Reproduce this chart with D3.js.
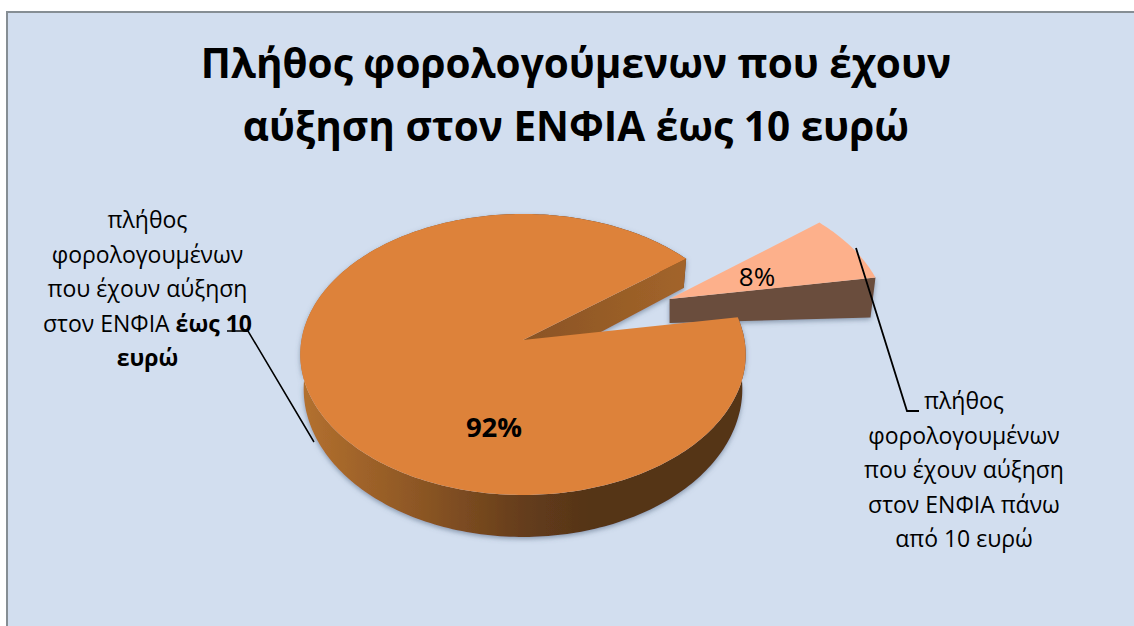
<!DOCTYPE html>
<html>
<head>
<meta charset="utf-8">
<script src="https://cdn.jsdelivr.net/npm/d3@7"></script>
<style>
  html, body { margin: 0; padding: 0; background: #fff; }
  svg { display: block; }
  text { font-family: "Open Sans", "Noto Sans", sans-serif; fill: #000; }
</style>
</head>
<body>
<div id="chart"></div>
<script>
const categories = [
  "πλήθος φορολογουμένων που έχουν αύξηση στον ΕΝΦΙΑ έως 10 ευρώ",
  "πλήθος φορολογουμένων που έχουν αύξηση στον ΕΝΦΙΑ πάνω από 10 ευρώ"
];
const values = [92, 8];
const valueLabels = ["92%", "8%"];
const titleLines = ["Πλήθος φορολογούμενων που έχουν", "αύξηση στον ΕΝΦΙΑ έως 10 ευρώ"];
const leftLabel = [["πλήθος"], ["φορολογουμένων"], ["που έχουν αύξηση"], ["στον ΕΝΦΙΑ ", "έως 10"], ["", "ευρώ"]];
const rightLabel = ["πλήθος", "φορολογουμένων", "που έχουν αύξηση", "στον ΕΝΦΙΑ πάνω", "από 10 ευρώ"];

const width = 1134;
const height = 626;
const cx = 523, cy = 340;     // pie centre on screen
const kx = 221.5, ky = 139;   // flattening of the disc
const persp = 0.103;          // near edge of the disc is drawn larger
const startDeg = 80.4;
const explode = 0.747;        // how far the small slice is pulled out

const svg = d3.select("#chart").append("svg").attr("width", width).attr("height", height);

svg.append("rect").attr("x", 7).attr("y", 12).attr("width", width).attr("height", height)
    .attr("fill", "#d2deef").attr("stroke", "#868e94").attr("stroke-width", 2);

const defs = svg.append("defs");
const wallGrad = defs.append("linearGradient").attr("id", "wallGrad")
    .attr("gradientUnits", "userSpaceOnUse")
    .attr("x1", 300).attr("x2", 745).attr("y1", 0).attr("y2", 0);
wallGrad.append("stop").attr("offset", "0%").attr("stop-color", "#b4712f");
wallGrad.append("stop").attr("offset", "25%").attr("stop-color", "#8f5825");
wallGrad.append("stop").attr("offset", "50%").attr("stop-color", "#653d1b");
wallGrad.append("stop").attr("offset", "65%").attr("stop-color", "#553418");
wallGrad.append("stop").attr("offset", "100%").attr("stop-color", "#553418");
const cutGrad = defs.append("linearGradient").attr("id", "cutGrad")
    .attr("gradientUnits", "userSpaceOnUse")
    .attr("x1", 520).attr("x2", 690).attr("y1", 0).attr("y2", 0);
cutGrad.append("stop").attr("offset", "0%").attr("stop-color", "#8a5324");
cutGrad.append("stop").attr("offset", "100%").attr("stop-color", "#a3652a");
defs.append("filter").attr("id", "soft")
    .attr("x", "-10%").attr("y", "-10%").attr("width", "120%").attr("height", "125%")
  .append("feDropShadow")
    .attr("dx", 0).attr("dy", 2).attr("stdDeviation", 2.5)
    .attr("flood-color", "#4d6178").attr("flood-opacity", 0.55);

const slices = d3.pie().sort(null)
    .startAngle(startDeg * Math.PI / 180)
    .endAngle((startDeg + 360) * Math.PI / 180)(values);

// point on the disc (unit radius), seen in perspective
function project(u, v) {
  const w = 1 - persp * v;
  return [cx + kx * u / w, cy + ky * v / w];
}
function arcPoints(s, off) {
  const n = Math.ceil((s.endAngle - s.startAngle) / 0.02);
  return d3.range(n + 1).map(i => {
    const a = s.startAngle + (s.endAngle - s.startAngle) * i / n;
    return project(off[0] + Math.sin(a), off[1] - Math.cos(a));
  });
}
// lower rim of the big slice
const dropMain = p => [cx + (p[0] - cx) * 0.985, p[1] + 33.5 + (p[1] - cy) * 0.055];
// lower rim of the pulled out slice
const dropSmall = p => [p[0] - (p[0] - 670) * 0.024, p[1] + 24 + (p[0] - 670) * 0.077];

const line = d3.line();
const big = slices[0], small = slices[1];
const mid = (small.startAngle + small.endAngle) / 2;
const off = [explode * Math.sin(mid), -explode * Math.cos(mid)];

// big slice: rim and the cut face that looks at us
const bigRim = arcPoints(big, [0, 0]);
const bigApex = project(0, 0);
const walls = svg.append("g").attr("filter", "url(#soft)");
walls.append("path")
    .attr("d", line(bigRim.concat(bigRim.map(dropMain).reverse())) + "Z")
    .attr("fill", "url(#wallGrad)");
const bigEnd = bigRim[bigRim.length - 1];
walls.append("path")
    .attr("d", line([bigApex, bigEnd, dropMain(bigEnd), dropMain(bigApex)]) + "Z")
    .attr("fill", "url(#cutGrad)");

// small slice
const smallRim = arcPoints(small, off);
const smallApex = project(off[0], off[1]);
const smallEnd = smallRim[smallRim.length - 1];
svg.append("g").attr("filter", "url(#soft)").append("path")
    .attr("d", line([smallApex, smallEnd, dropSmall(smallEnd), dropSmall(smallApex)]) + "Z")
    .attr("fill", "#6a4e3c");
svg.append("path")
    .attr("d", line([smallApex].concat(smallRim)) + "Z")
    .attr("fill", "#fdb08b");

// big slice top
svg.append("path")
    .attr("d", line([bigApex].concat(bigRim)) + "Z")
    .attr("fill", "#dd823a");

// title
svg.append("g").selectAll("text").data(titleLines).join("text")
    .attr("x", 576)
    .attr("y", (d, i) => 78 + i * 63)
    .attr("text-anchor", "middle")
    .attr("font-size", 40.5)
    .attr("font-weight", 700)
    .text(d => d);

// value labels
svg.append("text").attr("x", 494).attr("y", 437).attr("text-anchor", "middle")
    .attr("font-size", 27.5).attr("font-weight", 700).text(valueLabels[0]);
svg.append("text").attr("x", 757).attr("y", 286).attr("text-anchor", "middle")
    .attr("font-size", 26).text(valueLabels[1]);

// category labels
const left = svg.append("g").selectAll("text").data(leftLabel).join("text")
    .attr("x", 147.5)
    .attr("y", (d, i) => 228 + i * 34.5)
    .attr("text-anchor", "middle")
    .attr("font-size", 23);
left.append("tspan").text(d => d[0]);
left.append("tspan").attr("font-weight", 700).text(d => d[1] || "");

svg.append("g").selectAll("text").data(rightLabel).join("text")
    .attr("x", 964)
    .attr("y", (d, i) => 409 + i * 34.5)
    .attr("text-anchor", "middle")
    .attr("font-size", 23)
    .text(d => d);

// leader lines
svg.append("path").attr("fill", "none").attr("stroke", "#000").attr("stroke-width", 1.5)
    .attr("d", line([[227, 331], [248, 331], [314, 442]]));
svg.append("path").attr("fill", "none").attr("stroke", "#000").attr("stroke-width", 1.8)
    .attr("d", line([[856, 248], [907, 411], [919, 411]]));
</script>
</body>
</html>
